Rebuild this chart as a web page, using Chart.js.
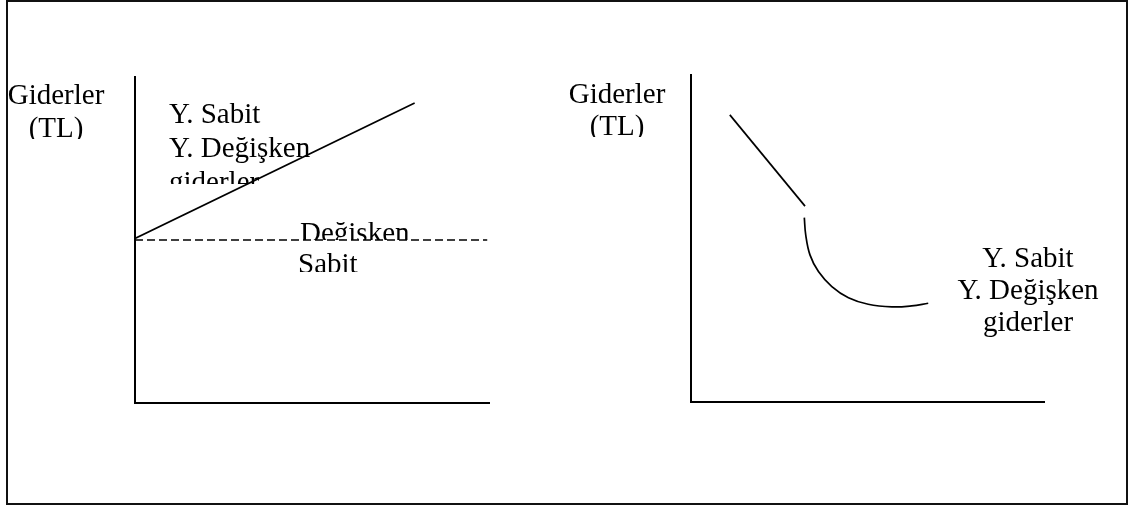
<!DOCTYPE html>
<html lang="tr">
<head>
  <meta charset="UTF-8">
  <title>Giderler</title>
  <style>
    body {
      margin: 0;
      background: #fff;
    }
    .page {
      position: relative;
      width: 1135px;
      height: 506px;
      overflow: hidden;
    }
    .frame {
      position: absolute;
      left: 6px;
      top: 0;
      width: 1122px;
      height: 505px;
      border: 2px solid #111;
      box-sizing: border-box;
    }
    .panel {
      position: absolute;
      top: 0;
      height: 506px;
    }
    #leftWrap { left: 0; width: 567px; }
    #rightWrap { left: 567px; width: 568px; }
  </style>
  <script src="https://cdn.jsdelivr.net/npm/chart.js"></script>
</head>
<body>
  <div class="page">
    <div class="frame"></div>
    <div class="panel" id="leftWrap"><canvas id="leftChart"></canvas></div>
    <div class="panel" id="rightWrap"><canvas id="rightChart"></canvas></div>
  </div>

  <script>
    // texts
    const axisLabel = ['Giderler', '(TL)'];
    const totalLabel = ['Y. Sabit', 'Y. Değişken', 'giderler'];
    const dashLabelTop = ['Değişken'];
    const dashLabelBottom = ['Sabit'];

    // left panel: total cost line and fixed (dashed) line, scale 0-100
    const leftSolidX = [0, 79];
    const leftSolidY = [50.5, 92];
    const leftDashX = [0, 99.5];
    const leftDashY = [50, 50];

    // right panel: falling line, then curve
    const rightLineX = [11, 32.3];
    const rightLineY = [87.8, 59.9];
    const rightCurveX = [32.1, 32.5, 33.7, 36.1, 39.9, 44.6, 50.2, 56.9, 62.5, 67.2];
    const rightCurveY = [56.4, 51.1, 45.0, 39.9, 35.3, 31.9, 29.9, 29.1, 29.4, 30.2];

    const SERIF = '29px "Liberation Serif", "Times New Roman", serif';

    const toPoints = (xs, ys) => xs.map((x, i) => ({ x: x, y: ys[i] }));

    // draws text blocks, each clipped at a bottom edge like the original boxes
    const textPlugin = {
      id: 'texts',
      afterDraw(chart, args, opts) {
        const ctx = chart.ctx;
        opts.blocks.forEach(b => {
          ctx.save();
          ctx.beginPath();
          ctx.rect(0, 0, chart.width, b.clip);
          ctx.clip();
          ctx.font = SERIF;
          ctx.fillStyle = '#000';
          ctx.textAlign = b.align;
          ctx.textBaseline = 'alphabetic';
          b.lines.forEach((t, i) => {
            ctx.fillText(t, b.x, b.y + i * b.lh);
          });
          ctx.restore();
        });
      }
    };

    const axisOpts = () => ({
      type: 'linear',
      min: 0,
      max: 100,
      grid: { display: false, drawTicks: false },
      ticks: { display: false },
      border: { display: true, color: '#000', width: 2 }
    });

    const baseOptions = (padding, blocks) => ({
      responsive: true,
      maintainAspectRatio: false,
      animation: false,
      layout: { padding: padding },
      scales: { x: axisOpts(), y: axisOpts() },
      plugins: {
        legend: { display: false },
        tooltip: { enabled: false },
        texts: { blocks: blocks }
      }
    });

    const lineStyle = {
      borderColor: '#000',
      borderWidth: 1.7,
      pointRadius: 0,
      fill: false
    };

    new Chart(document.getElementById('leftChart'), {
      type: 'scatter',
      data: {
        datasets: [
          Object.assign({ data: toPoints(leftSolidX, leftSolidY), showLine: true }, lineStyle),
          Object.assign({ data: toPoints(leftDashX, leftDashY), showLine: true, borderDash: [8, 4] }, lineStyle)
        ]
      },
      options: baseOptions({ left: 135, right: 78, top: 77, bottom: 103 }, [
        { lines: axisLabel, x: 56, y: 104, lh: 33, align: 'center', clip: 139 },
        { lines: totalLabel, x: 169, y: 123, lh: 34, align: 'left', clip: 184 },
        { lines: dashLabelTop, x: 300, y: 242, lh: 0, align: 'left', clip: 240 },
        { lines: dashLabelBottom, x: 298, y: 273, lh: 0, align: 'left', clip: 272 }
      ]),
      plugins: [textPlugin]
    });

    new Chart(document.getElementById('rightChart'), {
      type: 'scatter',
      data: {
        datasets: [
          Object.assign({ data: toPoints(rightLineX, rightLineY), showLine: true }, lineStyle),
          Object.assign({ data: toPoints(rightCurveX, rightCurveY), showLine: true, tension: 0.4 }, lineStyle)
        ]
      },
      options: baseOptions({ left: 124, right: 91, top: 75, bottom: 104 }, [
        { lines: axisLabel, x: 50, y: 103, lh: 32, align: 'center', clip: 137 },
        { lines: totalLabel, x: 461, y: 267, lh: 32, align: 'center', clip: 506 }
      ]),
      plugins: [textPlugin]
    });
  </script>
</body>
</html>
